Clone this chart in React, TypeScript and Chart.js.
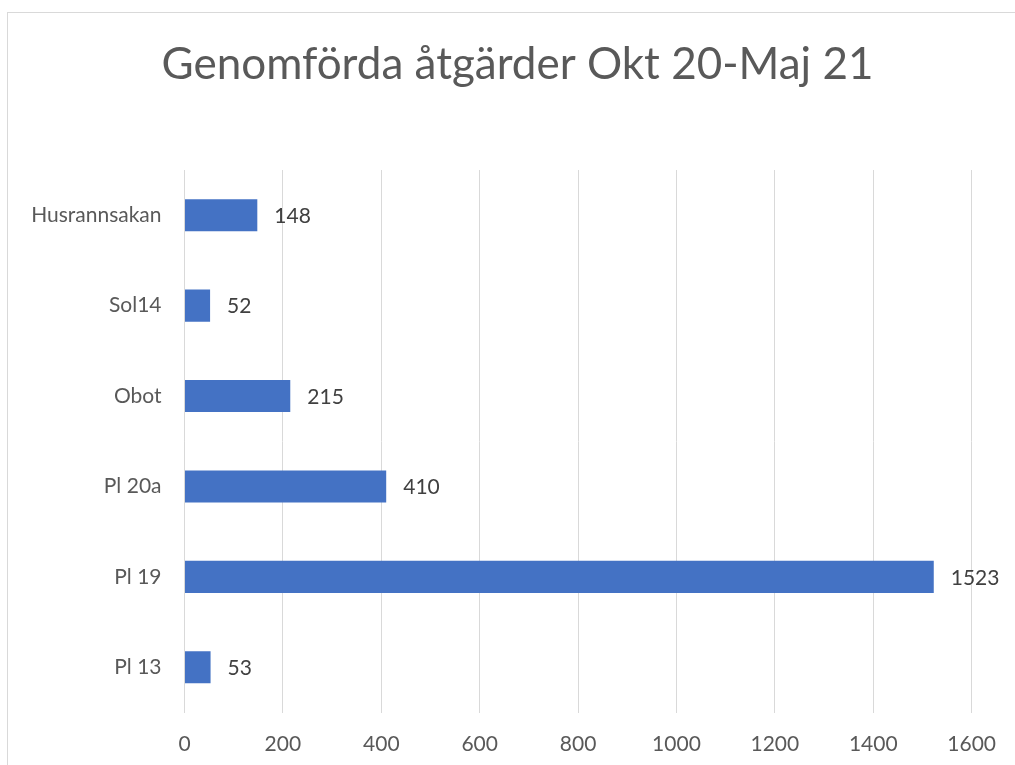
import React, { useEffect, useRef } from "react";
import { Chart, registerables } from "chart.js";

Chart.register(...registerables);

const TITLE = "Genomförda åtgärder Okt 20-Maj 21";
const categories = ["Husrannsakan", "Sol14", "Obot", "Pl 20a", "Pl 19", "Pl 13"];
const values = [148, 52, 215, 410, 1523, 53];
const xTicks = [0, 200, 400, 600, 800, 1000, 1200, 1400, 1600];

const FONT = "Lato, 'Liberation Sans', sans-serif";

const dataLabelPlugin = {
  id: "dataLabels",
  afterLayout(chart: any) {
    // centre the title over the bordered chart frame rather than the padded box
    if (chart.titleBlock) chart.titleBlock.left = 60.5;
  },
  afterDatasetsDraw(chart: any) {
    const ctx = chart.ctx;
    const meta = chart.getDatasetMeta(0);
    ctx.save();
    ctx.font = `21px ${FONT}`;
    ctx.fillStyle = "#404040";
    ctx.textAlign = "left";
    ctx.textBaseline = "middle";
    meta.data.forEach((el: any, i: number) => {
      ctx.fillText(String(values[i]), el.x + 17, el.y + 1);
    });
    ctx.restore();
  },
};

export default function App() {
  const ref = useRef<HTMLCanvasElement | null>(null);
  useEffect(() => {
    if (!ref.current) return;
    const chart = new Chart(ref.current, {
      type: "bar",
      data: {
        labels: categories,
        datasets: [
          {
            data: values,
            backgroundColor: "#4472C4",
            borderWidth: 0,
            categoryPercentage: 1,
            barPercentage: 0.354,
          },
        ],
      },
      options: {
        indexAxis: "y",
        animation: false,
        responsive: false,
        layout: { padding: { left: 0, right: 40.5, top: 0, bottom: 0 } },
        plugins: {
          legend: { display: false },
          tooltip: { enabled: false },
          title: {
            display: true,
            text: TITLE,
            color: "#595959",
            font: { family: FONT, size: 44, weight: "normal" },
            padding: { top: 38, bottom: 79.2 },
          },
        },
        scales: {
          x: {
            min: 0,
            max: 1600,
            afterBuildTicks(scale: any) {
              scale.ticks = xTicks.map((v) => ({ value: v }));
            },
            grid: { color: "#d9d9d9", lineWidth: 1, drawTicks: false },
            border: { display: false },
            ticks: {
              color: "#595959",
              font: { family: FONT, size: 21 },
              padding: 19,
              callback: (v: any) => String(v),
            },
            afterFit(scale: any) {
              scale.height = 52.5;
            },
          },
          y: {
            grid: { display: false, drawTicks: false },
            border: { display: true, color: "#d9d9d9", width: 1 },
            ticks: {
              color: "#595959",
              font: { family: FONT, size: 21 },
              padding: 23,
            },
            afterFit(scale: any) {
              scale.width = 184.5;
            },
          },
        },
      },
      plugins: [dataLabelPlugin],
    });
    return () => chart.destroy();
  }, []);

  return (
    <div
      style={{
        position: "fixed",
        left: 0,
        top: 0,
        width: 1015,
        height: 765,
        overflow: "hidden",
        background: "#ffffff",
      }}
    >
      <div
        style={{
          position: "absolute",
          left: 7,
          top: 12,
          width: 1100,
          height: 900,
          border: "1px solid #d9d9d9",
          boxSizing: "border-box",
        }}
      />
      <canvas
        ref={ref}
        width={1015}
        height={765}
        style={{ position: "absolute", left: 0, top: 0, width: 1015, height: 765 }}
      />
    </div>
  );
}
